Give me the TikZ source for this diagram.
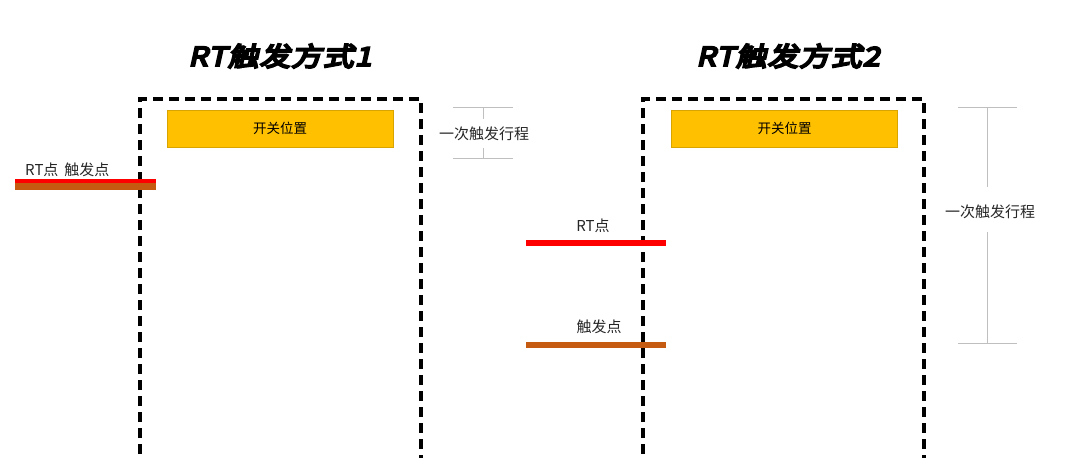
\documentclass[tikz,border=0pt]{standalone}
\usepackage{fontspec}
\newfontfamily\cjk{Noto Sans CJK SC}
\newfontfamily\titlefont[FakeSlant=0.22,FakeBold=8,FakeStretch=1.18,LetterSpace=4]{Noto Sans CJK SC}
\definecolor{swyellow}{HTML}{FFC000}
\definecolor{swborder}{HTML}{D9A400}
\definecolor{rtred}{HTML}{FF0000}
\definecolor{trigbrown}{HTML}{C55A11}
\definecolor{dimgray}{HTML}{BFBFBF}
\begin{document}
\begin{tikzpicture}[x=1pt,y=-1pt,
  titletext/.style={font=\titlefont\fontsize{26}{26}\selectfont, inner sep=0pt},
  lbl/.style={font=\cjk\fontsize{15}{15}\selectfont, inner sep=0pt, text=black!85},
  swbox/.style={draw=swborder, fill=swyellow, line width=0.8pt, minimum width=226pt, minimum height=37pt, inner sep=0pt, font=\cjk\fontsize{13.5}{13.5}\selectfont},
  housing/.style={draw=black, line width=3.5pt, dash pattern=on 10pt off 6pt},
  rtbar/.style={draw=rtred, line width=6pt},
  trigbar/.style={draw=trigbrown, line width=6.5pt},
  dimline/.style={draw=dimgray, line width=0.9pt}]
\useasboundingbox (0,0) rectangle (1080,458);
% titles
\node[titletext] (t1) at (280,56) {RT触发方式1};
\node[titletext] (t2) at (788,56) {RT触发方式2};
% housings
\coordinate (h1a) at (140,470); \coordinate (h1b) at (140,99);
\coordinate (h1c) at (421,99); \coordinate (h1d) at (421,470);
\draw[housing] (h1a) -- (h1b) -- (h1c) -- (h1d);
\coordinate (h2a) at (643,470); \coordinate (h2b) at (643,99);
\coordinate (h2c) at (924,99); \coordinate (h2d) at (924,470);
\draw[housing] (h2a) -- (h2b) -- (h2c) -- (h2d);
% switch boxes
\node[swbox] (sw1) at (280,128.5) {开关位置};
\node[swbox] (sw2) at (784.5,128.5) {开关位置};
% diagram 1 bars
\coordinate (r1a) at (15,181); \coordinate (r1b) at (156,181);
\coordinate (b1a) at (15,186.5); \coordinate (b1b) at (156,186.5);
\draw[trigbar, line width=7pt] (b1a) -- (b1b);
\draw[rtbar, line width=4pt] (r1a) -- (r1b);
\node[lbl, anchor=south west] (l1) at (25,177) {RT点 \,触发点};
% diagram 1 dimension
\coordinate (d1t1) at (453,107); \coordinate (d1t2) at (513,107);
\coordinate (d1b1) at (453,158.5); \coordinate (d1b2) at (513,158.5);
\coordinate (d1v1) at (483,107); \coordinate (d1v1e) at (483,119);
\coordinate (d1v2s) at (483,148); \coordinate (d1v2) at (483,158.5);
\node[lbl] (dim1) at (484,134) {一次触发行程};
\draw[dimline] (d1t1) -- (d1t2);
\draw[dimline] (d1b1) -- (d1b2);
\draw[dimline] (d1v1) -- (d1v1e);
\draw[dimline] (d1v2s) -- (d1v2);
% diagram 2 bars
\coordinate (r2a) at (526,243); \coordinate (r2b) at (666,243);
\coordinate (b2a) at (526,345); \coordinate (b2b) at (666,345);
\draw[rtbar] (r2a) -- (r2b);
\draw[trigbar] (b2a) -- (b2b);
\node[lbl] (l2) at (593,226) {RT点};
\node[lbl] (l3) at (599,327) {触发点};
% diagram 2 dimension
\coordinate (d2t1) at (958,107); \coordinate (d2t2) at (1017,107);
\coordinate (d2b1) at (958,343.5); \coordinate (d2b2) at (1017,343.5);
\coordinate (d2v1) at (987.5,107); \coordinate (d2v1e) at (987.5,187);
\coordinate (d2v2s) at (987.5,232); \coordinate (d2v2) at (987.5,343.5);
\node[lbl] (dim2) at (990,212) {一次触发行程};
\draw[dimline] (d2t1) -- (d2t2);
\draw[dimline] (d2b1) -- (d2b2);
\draw[dimline] (d2v1) -- (d2v1e);
\draw[dimline] (d2v2s) -- (d2v2);
\end{tikzpicture}
\end{document}
